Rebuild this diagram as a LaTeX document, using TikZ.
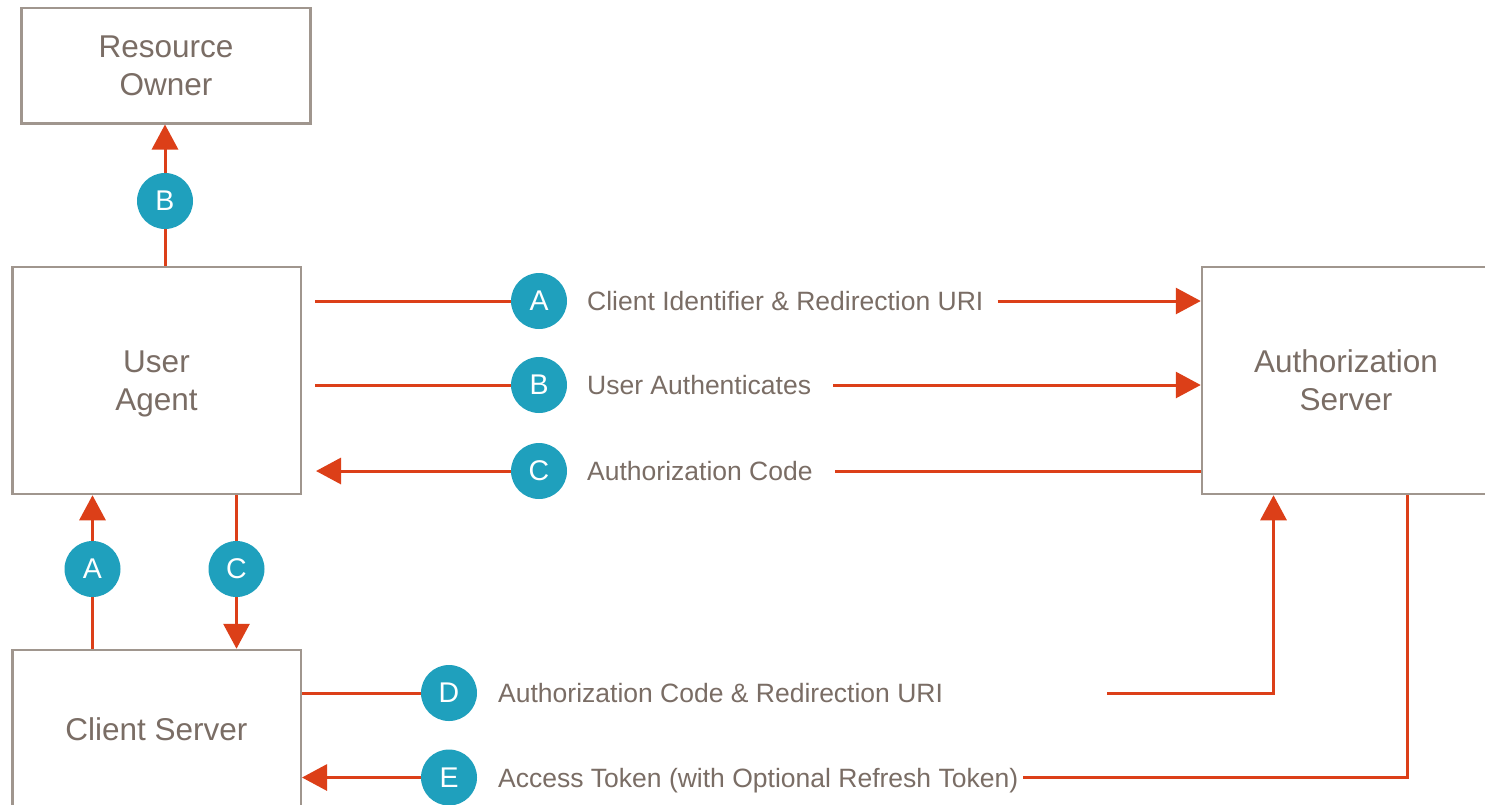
\documentclass[tikz,border=0pt]{standalone}
\usepackage{fontspec}
\setmainfont{Liberation Sans}
\usetikzlibrary{arrows.meta,calc}

\definecolor{boxline}{HTML}{A0968E}
\definecolor{boxtext}{HTML}{7A6D65}
\definecolor{flowred}{HTML}{DC3F18}
\definecolor{stepteal}{HTML}{1FA0BD}

\tikzset{
  party/.style={draw=boxline, line width=2.5pt, fill=white, inner sep=0pt,
    align=center, text=boxtext, text depth=0pt,
    font=\fontsize{31.5}{38}\selectfont},
  badge/.style={circle, fill=stepteal, minimum size=56pt, inner sep=0pt,
    text=white, font=\fontsize{28.5}{28.5}\selectfont},
  msg/.style={anchor=base west, inner sep=0pt, text=boxtext,
    font=\fontsize{26.5}{30}\selectfont},
  flow/.style={draw=flowred, line width=3pt},
  flowtip/.style={flow, -{Triangle[length=25pt,width=26pt]}}
}

\begin{document}
\begin{tikzpicture}[x=1pt,y=-1pt]
  \clip (0,0) rectangle (1485,804);
  \fill[white] (0,0) rectangle (1485,804);

  % parties
  \node[party, minimum width=289pt, minimum height=115.5pt] (ro) at (166,65.5) {Resource\\Owner};
  \node[party, minimum width=288.5pt, minimum height=227pt] (ua) at (156.5,380.5) {User\\Agent};
  \node[party, minimum width=288pt, minimum height=227pt] (as) at (1346,380.5) {Authorization\\Server};
  \node[party, minimum width=288.5pt, minimum height=158pt] (cs) at (156.5,729) {Client Server};

  % step badges
  \node[badge] (bRO) at (165,201) {B};
  \node[badge] (aV) at (92.5,569) {A};
  \node[badge] (cV) at (236.5,569) {C};
  \node[badge] (aH) at (539,301) {A};
  \node[badge] (bH) at (539,385) {B};
  \node[badge] (cH) at (539,471) {C};
  \node[badge] (dH) at (449,693) {D};
  \node[badge] (eH) at (449,777.5) {E};

  % message texts
  \node[msg] (tA) at (587,310.5) {Client Identifier \& Redirection URI};
  \node[msg] (tB) at (587,394.5) {User Authenticates};
  \node[msg] (tC) at (587,480.5) {Authorization Code};
  \node[msg] (tD) at (498,702.5) {Authorization Code \& Redirection URI};
  \node[msg] (tE) at (498,787) {Access Token (with Optional Refresh Token)};

  % free ends
  \coordinate (aStart) at (315,301);
  \coordinate (bStart) at (315,385);
  \coordinate (cEnd) at (316,471);
  \coordinate (dFrom) at (1107,693);
  \coordinate (dBend) at (1273.5,693);
  \coordinate (eBend) at (1407,777.5);

  % user agent <-> resource owner
  \draw[flow] (ua.north -| bRO) -- (bRO);
  \draw[flowtip] (bRO) -- (ro.south -| bRO);

  % client server <-> user agent
  \draw[flow] (cs.north -| aV) -- (aV);
  \draw[flowtip] (aV) -- (ua.south -| aV);
  \draw[flow] (ua.south -| cV) -- (cV);
  \draw[flowtip] (cV) -- (cs.north -| cV);

  % user agent <-> authorization server
  \draw[flow] (aStart) -- (aH);
  \draw[flowtip] ([xshift=14pt]tA.east |- aH) -- (as.west |- aH);
  \draw[flow] (bStart) -- (bH);
  \draw[flowtip] ([xshift=22pt]tB.east |- bH) -- (as.west |- bH);
  \draw[flow] (as.west |- cH) -- ([xshift=22pt]tC.east |- cH);
  \draw[flowtip] (cH) -- (cEnd);

  % client server <-> authorization server
  \draw[flow] (cs.east |- dH) -- (dH);
  \draw[flowtip] (dFrom) -- (dBend) -- (as.south -| dBend);
  \draw[flow] (as.south -| eBend) -- (eBend) -- ([xshift=5pt]tE.east |- eH);
  \draw[flowtip] (eH) -- (cs.east |- eH);
\end{tikzpicture}
\end{document}
